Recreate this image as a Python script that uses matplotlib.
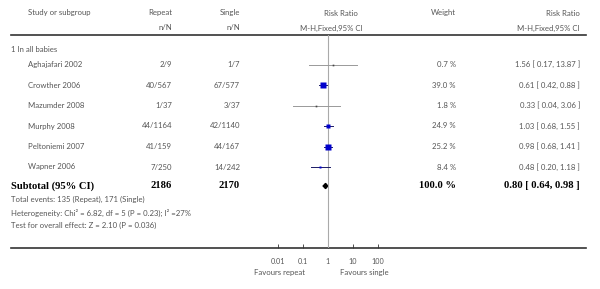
import numpy as np
import matplotlib.pyplot as plt
from matplotlib.patches import Polygon

# ---- data ----
studies = ['Aghajafari 2002', 'Crowther 2006', 'Mazumder 2008',
           'Murphy 2008', 'Peltoniemi 2007', 'Wapner 2006']
repeat_n = [2, 40, 1, 44, 41, 7]
repeat_N = [9, 567, 37, 1164, 159, 250]
single_n = [1, 67, 3, 42, 44, 14]
single_N = [7, 577, 37, 1140, 167, 242]
weights = [0.7, 39.0, 1.8, 24.9, 25.2, 8.4]
rr = [1.56, 0.61, 0.33, 1.03, 0.98, 0.48]
rr_lo = [0.17, 0.42, 0.04, 0.68, 0.68, 0.20]
rr_hi = [13.87, 0.88, 3.06, 1.55, 1.41, 1.18]

total_rr, total_lo, total_hi = 0.80, 0.64, 0.98
total_repeat, total_single = 2186, 2170
tick_vals = [0.01, 0.1, 1, 10, 100]
tick_labels = ['0.01', '0.1', '1', '10', '100']

# ---- style ----
plt.rcParams['font.family'] = ['Lato', 'DejaVu Sans']
grey = '#555555'
fs = 5.6
serif = ['Liberation Serif', 'DejaVu Serif']

fig = plt.figure(figsize=(6, 2.89), dpi=100)
bg = fig.add_axes([0, 0, 1, 1])
bg.set_xlim(0, 600)
bg.set_ylim(289, 0)
bg.axis('off')

# layout in pixels
x_name, x_group = 28, 11
x_rep, x_sing = 172, 240
x_plot0, x_plot1 = 278, 378
x_wt, x_rr = 456, 580
y_top, y_axis = 35, 248
row_y = [64.5 + 20.5 * i for i in range(len(studies))]
y_sub = 186

# header
def t(x, y, s, ha='left', **kw):
    kw.setdefault('color', grey)
    kw.setdefault('fontsize', fs)
    bg.text(x, y, s, ha=ha, va='center', **kw)

t(x_name, 13, 'Study or subgroup')
t(x_rep, 13, 'Repeat', 'right')
t(x_rep, 28, 'n/N', 'right')
t(x_sing, 13, 'Single', 'right')
t(x_sing, 28, 'n/N', 'right')
t(358, 13, 'Risk Ratio', 'right')
t(363, 28, 'M-H,Fixed,95% CI', 'right')
t(x_wt, 13, 'Weight', 'right')
t(x_rr, 13, 'Risk Ratio', 'right')
t(x_rr, 28, 'M-H,Fixed,95% CI', 'right')
bg.plot([11, 586], [y_top, y_top], color='#333333', lw=1.2)
bg.plot([11, 586], [y_axis, y_axis], color='#333333', lw=1.2)

t(x_group, 50, '1 In all babies')
for i, name in enumerate(studies):
    y = row_y[i]
    t(x_name, y, name)
    t(x_rep, y, f'{repeat_n[i]}/{repeat_N[i]}', 'right')
    t(x_sing, y, f'{single_n[i]}/{single_N[i]}', 'right')
    t(x_wt, y, f'{weights[i]:.1f} %', 'right')
    t(x_rr, y, f'{rr[i]:.2f} [ {rr_lo[i]:.2f}, {rr_hi[i]:.2f} ]', 'right')

bold = dict(family=serif, fontweight='bold', color='black', fontsize=7.6)
t(x_group, y_sub, 'Subtotal (95% CI)', **bold)
t(x_rep, y_sub, str(total_repeat), 'right', **bold)
t(x_sing, y_sub, str(total_single), 'right', **bold)
t(x_wt, y_sub, '100.0 %', 'right', **bold)
t(x_rr, y_sub, f'{total_rr:.2f} [ {total_lo:.2f}, {total_hi:.2f} ]', 'right', **bold)

t(x_group, 199.5, 'Total events: 135 (Repeat), 171 (Single)')
t(x_group, 212.5, 'Heterogeneity: Chi\u00b2 = 6.82, df = 5 (P = 0.23); I\u00b2 =27%')
t(x_group, 225.5, 'Test for overall effect: Z = 2.10 (P = 0.036)')
t(305, 273, 'Favours repeat', 'right')
t(340, 273, 'Favours single')

# ---- forest panel ----
ax = fig.add_axes([x_plot0 / 600, (289 - y_axis) / 289,
                   (x_plot1 - x_plot0) / 600, (y_axis - y_top) / 289])
ax.set_xscale('log')
ax.set_xlim(0.01, 100)
ax.set_ylim(y_axis, y_top)
ax.patch.set_alpha(0)
for s in ax.spines.values():
    s.set_visible(False)
ax.axvline(1, color='#aaaaaa', lw=0.8)

for i in range(len(studies)):
    y = row_y[i]
    small = weights[i] < 5
    lc = '#999999' if small else '#1a1a66'
    ax.plot([rr_lo[i], rr_hi[i]], [y, y], color=lc, lw=0.7, clip_on=False)
    ms = max(1.2, 0.72 * np.sqrt(weights[i]))
    ax.plot(rr[i], y, marker='s', ms=ms, color='#444444' if small else '#0000cc',
            mec='none', clip_on=False)

ax.add_patch(Polygon([[total_lo, y_sub], [total_rr, y_sub - 2.6],
                      [total_hi, y_sub], [total_rr, y_sub + 2.6]],
                     closed=True, color='black'))

ax.set_yticks([])
ax.set_xticks(tick_vals)
ax.set_xticklabels(tick_labels)
ax.minorticks_off()
ax.tick_params(axis='x', direction='in', length=3, width=0.6, color='#333333',
               labelsize=fs - 0.4, labelcolor=grey, pad=7)

fig.savefig('out.png', dpi=100)
